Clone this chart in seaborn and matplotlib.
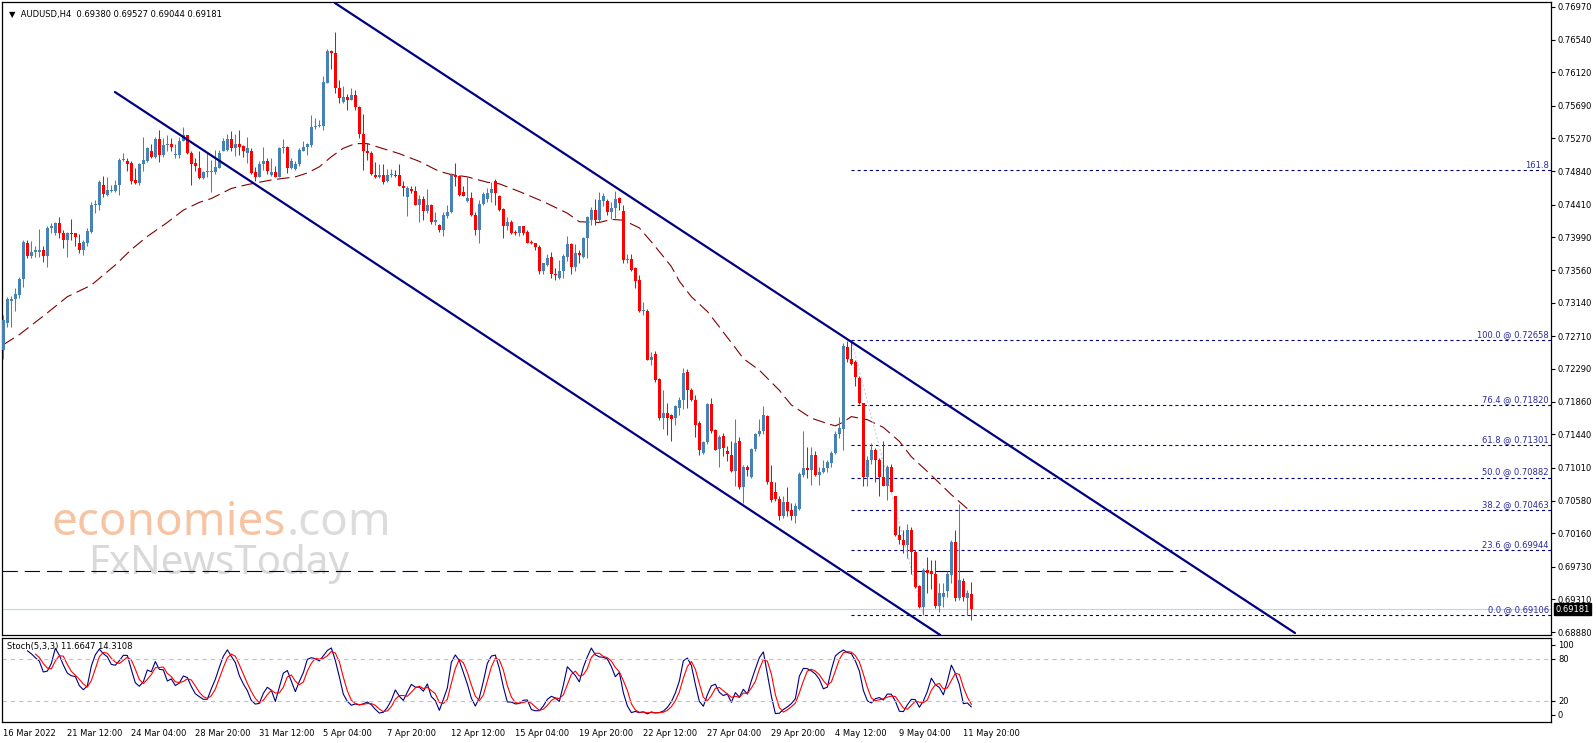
import numpy as np
import pandas as pd
import matplotlib
matplotlib.use("Agg")
import matplotlib.pyplot as plt
import seaborn as sns
from matplotlib.transforms import blended_transform_factory, offset_copy

sns.set_style("white")
plt.rcParams['font.family'] = ['DejaVu Sans']
plt.rcParams['lines.scale_dashes'] = False

# AUDUSD H4 candles, values in pips (price * 10000)
o = [7253, 7288, 7317, 7319, 7324, 7345, 7392, 7375, 7380, 7380, 7383, 7375, 7411, 7404, 7417, 7404,
     7395, 7405, 7404, 7391, 7383, 7392, 7406, 7440, 7441, 7466, 7454, 7459, 7459, 7466, 7499, 7498,
     7495, 7473, 7469, 7494, 7497, 7511, 7503, 7526, 7505, 7518, 7520, 7505, 7505, 7523, 7531, 7508,
     7495, 7489, 7475, 7483, 7483, 7483, 7489, 7511, 7512, 7526, 7514, 7520, 7517, 7508, 7511, 7483,
     7477, 7494, 7498, 7480, 7483, 7477, 7514, 7516, 7488, 7487, 7494, 7511, 7515, 7518, 7541, 7543,
     7543, 7599, 7640, 7637, 7592, 7574, 7580, 7577, 7583, 7567, 7533, 7510, 7508, 7480, 7477, 7480,
     7471, 7479, 7480, 7480, 7465, 7451, 7461, 7459, 7440, 7448, 7433, 7440, 7418, 7415, 7408, 7427,
     7431, 7480, 7478, 7457, 7446, 7450, 7428, 7408, 7442, 7448, 7456, 7472, 7452, 7435, 7413, 7418,
     7406, 7404, 7413, 7406, 7393, 7391, 7386, 7355, 7363, 7373, 7352, 7346, 7355, 7374, 7390, 7360,
     7378, 7373, 7398, 7421, 7434, 7421, 7446, 7446, 7432, 7437, 7450, 7433, 7369, 7371, 7359, 7343,
     7303, 7304, 7240, 7248, 7215, 7165, 7172, 7169, 7165, 7178, 7189, 7225, 7202, 7189, 7159, 7120,
     7134, 7183, 7150, 7125, 7142, 7123, 7117, 7097, 7135, 7076, 7102, 7089, 7125, 7145, 7148, 7168,
     7082, 7070, 7061, 7038, 7057, 7046, 7039, 7047, 7092, 7100, 7098, 7117, 7091, 7095, 7100, 7107,
     7120, 7145, 7151, 7257, 7241, 7237, 7217, 7184, 7089, 7111, 7124, 7111, 7089, 7077, 7102, 7064,
     7014, 7008, 7001, 7021, 6992, 6948, 6921, 6969, 6967, 6964, 6922, 6934, 6941, 6962, 7005, 6932,
     6955, 6932, 6938]
h = [7298, 7322, 7323, 7333, 7348, 7396, 7395, 7394, 7387, 7409, 7387, 7414, 7417, 7419, 7425, 7408,
     7406, 7422, 7405, 7403, 7396, 7411, 7445, 7447, 7473, 7478, 7477, 7467, 7473, 7501, 7508, 7502,
     7497, 7489, 7495, 7529, 7516, 7520, 7529, 7538, 7527, 7531, 7527, 7520, 7529, 7542, 7531, 7510,
     7501, 7510, 7484, 7508, 7499, 7512, 7512, 7527, 7533, 7536, 7533, 7538, 7518, 7528, 7514, 7490,
     7497, 7516, 7501, 7501, 7491, 7516, 7526, 7517, 7502, 7497, 7514, 7523, 7521, 7557, 7553, 7551,
     7607, 7642, 7641, 7664, 7602, 7595, 7584, 7592, 7589, 7569, 7558, 7521, 7510, 7496, 7493, 7493,
     7487, 7487, 7486, 7494, 7471, 7465, 7465, 7465, 7454, 7452, 7461, 7442, 7432, 7416, 7432, 7441,
     7482, 7495, 7480, 7465, 7477, 7457, 7431, 7447, 7457, 7462, 7470, 7474, 7454, 7437, 7425, 7421,
     7408, 7413, 7413, 7408, 7396, 7392, 7389, 7366, 7377, 7380, 7359, 7370, 7377, 7401, 7391, 7390,
     7383, 7399, 7427, 7438, 7449, 7458, 7456, 7449, 7444, 7459, 7451, 7441, 7377, 7377, 7361, 7350,
     7315, 7306, 7250, 7252, 7217, 7202, 7184, 7171, 7182, 7192, 7230, 7228, 7204, 7195, 7161, 7135,
     7184, 7191, 7151, 7143, 7146, 7129, 7135, 7164, 7140, 7104, 7104, 7126, 7146, 7164, 7181, 7169,
     7105, 7083, 7064, 7064, 7076, 7055, 7055, 7096, 7149, 7128, 7128, 7122, 7102, 7111, 7111, 7122,
     7148, 7167, 7262, 7265, 7266, 7240, 7219, 7185, 7116, 7133, 7126, 7113, 7136, 7105, 7106, 7064,
     7026, 7020, 7028, 7024, 6995, 6949, 6971, 6986, 6982, 6981, 6952, 6952, 6967, 7007, 7020, 7054,
     6958, 6943, 6953]
l = [7242, 7283, 7283, 7303, 7320, 7335, 7372, 7372, 7374, 7373, 7367, 7361, 7404, 7402, 7398, 7385,
     7374, 7395, 7387, 7378, 7376, 7387, 7404, 7430, 7434, 7451, 7452, 7458, 7458, 7453, 7497, 7484,
     7468, 7468, 7467, 7484, 7496, 7501, 7502, 7496, 7503, 7511, 7511, 7501, 7501, 7523, 7507, 7467,
     7484, 7474, 7474, 7477, 7457, 7481, 7488, 7510, 7511, 7510, 7504, 7505, 7503, 7495, 7481, 7471,
     7477, 7486, 7481, 7478, 7477, 7477, 7508, 7482, 7487, 7486, 7491, 7510, 7505, 7516, 7539, 7541,
     7538, 7598, 7617, 7586, 7573, 7573, 7563, 7576, 7564, 7527, 7486, 7499, 7480, 7475, 7475, 7468,
     7470, 7477, 7477, 7465, 7452, 7427, 7456, 7440, 7419, 7421, 7430, 7416, 7415, 7406, 7400, 7424,
     7430, 7465, 7452, 7452, 7444, 7427, 7402, 7392, 7441, 7445, 7445, 7441, 7433, 7398, 7408, 7403,
     7402, 7401, 7402, 7391, 7390, 7383, 7352, 7352, 7362, 7346, 7343, 7345, 7346, 7368, 7352, 7355,
     7365, 7372, 7372, 7415, 7415, 7419, 7439, 7428, 7422, 7424, 7434, 7366, 7366, 7355, 7333, 7302,
     7299, 7240, 7234, 7212, 7163, 7151, 7143, 7135, 7156, 7169, 7177, 7178, 7187, 7141, 7117, 7119,
     7132, 7146, 7124, 7102, 7116, 7109, 7096, 7077, 7074, 7055, 7090, 7087, 7122, 7142, 7145, 7080,
     7057, 7058, 7033, 7036, 7038, 7033, 7030, 7046, 7089, 7087, 7079, 7090, 7079, 7094, 7095, 7102,
     7118, 7139, 7124, 7238, 7234, 7206, 7183, 7077, 7077, 7106, 7082, 7064, 7077, 7059, 7069, 7013,
     7002, 6990, 6984, 6964, 6945, 6919, 6911, 6939, 6944, 6920, 6914, 6921, 6934, 6952, 6928, 6930,
     6928, 6911, 6904]
c = [7292, 7319, 7319, 7326, 7345, 7393, 7375, 7380, 7382, 7383, 7375, 7411, 7414, 7417, 7404, 7395,
     7404, 7403, 7399, 7383, 7393, 7407, 7440, 7441, 7470, 7455, 7460, 7460, 7466, 7499, 7500, 7494,
     7472, 7469, 7494, 7499, 7514, 7503, 7526, 7505, 7518, 7520, 7515, 7506, 7524, 7531, 7508, 7494,
     7491, 7475, 7483, 7484, 7484, 7490, 7508, 7524, 7526, 7514, 7520, 7516, 7511, 7514, 7482, 7477,
     7494, 7498, 7484, 7483, 7477, 7514, 7516, 7488, 7498, 7494, 7512, 7516, 7519, 7541, 7543, 7544,
     7600, 7640, 7637, 7592, 7579, 7580, 7577, 7583, 7567, 7533, 7510, 7508, 7481, 7477, 7480, 7470,
     7480, 7480, 7478, 7465, 7462, 7462, 7459, 7440, 7448, 7433, 7440, 7418, 7421, 7408, 7428, 7431,
     7480, 7477, 7454, 7452, 7450, 7428, 7408, 7442, 7455, 7456, 7461, 7456, 7434, 7413, 7418, 7405,
     7404, 7413, 7405, 7392, 7391, 7386, 7355, 7365, 7372, 7352, 7350, 7355, 7375, 7390, 7360, 7378,
     7376, 7398, 7425, 7434, 7421, 7447, 7452, 7432, 7437, 7449, 7443, 7369, 7371, 7357, 7342, 7303,
     7304, 7240, 7244, 7214, 7165, 7172, 7165, 7164, 7181, 7189, 7224, 7201, 7188, 7156, 7124, 7134,
     7183, 7149, 7124, 7141, 7126, 7119, 7097, 7133, 7076, 7102, 7098, 7125, 7145, 7148, 7169, 7082,
     7059, 7060, 7038, 7057, 7045, 7039, 7051, 7093, 7100, 7098, 7117, 7091, 7096, 7100, 7108, 7120,
     7145, 7152, 7258, 7241, 7235, 7218, 7184, 7089, 7111, 7124, 7111, 7089, 7077, 7102, 7070, 7014,
     7008, 7001, 7021, 6992, 6947, 6921, 6969, 6965, 6964, 6922, 6939, 6939, 6964, 7005, 6932, 6956,
     6934, 6939, 6918]

# moving average (dashed), read at some bars
ma_bar = [0, 4, 10, 16, 22, 28, 32, 36, 41, 45, 49, 52, 57, 61, 67, 73, 76, 79, 82, 85, 88, 91, 94,
          99, 104, 109, 112, 116, 121, 124, 129, 135, 141, 144, 149, 152, 155, 159, 162, 165, 167, 169,
          172, 176, 179, 180, 183, 185, 189, 194, 197, 202, 206, 208, 210, 212, 216, 220, 224, 227, 231,
          234, 237, 241]
ma_pips = [7260, 7273, 7297, 7322, 7337, 7363, 7383, 7400, 7418, 7434, 7444, 7449, 7462, 7467, 7473,
           7477, 7482, 7490, 7503, 7514, 7520, 7520, 7515, 7507, 7497, 7484, 7480, 7477, 7470, 7468,
           7458, 7445, 7430, 7419, 7418, 7422, 7421, 7411, 7393, 7374, 7361, 7342, 7322, 7303, 7283,
           7276, 7256, 7242, 7227, 7201, 7182, 7165, 7158, 7155, 7160, 7167, 7163, 7153, 7135, 7115,
           7096, 7081, 7066, 7048]

fib_pct = ["161.8", "100.0", "76.4", "61.8", "50.0", "38.2", "23.6", "0.0"]
fib_price = [0.74853, 0.72658, 0.71820, 0.71301, 0.70882, 0.70463, 0.69944, 0.69106]
fib_start = 212
fib_low_bar = 230

# channel lines (bar, price) and the long dashed level
upper_bar = [82.9, 322.9]
upper_price = [0.77018, 0.68872]
lower_bar = [27.9, 234.2]
lower_price = [0.75867, 0.68846]
level_price = 0.69675
level_end = 295.7

last_price = 0.69181

price_ticks = [0.76970, 0.76540, 0.76120, 0.75690, 0.75270, 0.74840, 0.74410, 0.73990, 0.73560,
               0.73140, 0.72710, 0.72290, 0.71860, 0.71440, 0.71010, 0.70580, 0.70160, 0.69730,
               0.69310, 0.68880]
date_labels = ["16 Mar 2022", "21 Mar 12:00", "24 Mar 04:00", "28 Mar 20:00", "31 Mar 12:00",
               "5 Apr 04:00", "7 Apr 20:00", "12 Apr 12:00", "15 Apr 04:00", "19 Apr 20:00",
               "22 Apr 12:00", "27 Apr 04:00", "29 Apr 20:00", "4 May 12:00", "9 May 04:00",
               "11 May 20:00"]
date_bars = list(range(0, 16 * len(date_labels), 16))

df = pd.DataFrame({"open": o, "high": h, "low": l, "close": c}) / 10000.0
df["bar"] = np.arange(len(df))

# stochastic 5,3,3
hh = df["high"].rolling(5).max()
ll = df["low"].rolling(5).min()
df["k"] = 100 * (df["close"] - ll).rolling(3).sum() / (hh - ll).rolling(3).sum()
df["d"] = df["k"].rolling(3).mean()

W, H = 1596, 743
fig = plt.figure(figsize=(W / 100, H / 100), dpi=100)
ax = fig.add_axes([2 / W, 1 - 635 / H, 1549 / W, 633 / H])
ax2 = fig.add_axes([2 / W, 1 - 722 / H, 1549 / W, 84 / H])

xmin, xmax = -0.33, 386.9
navy = "#000080"
blue = "#4682B4"
red = "#FF0000"

# candles
up = df["close"] >= df["open"]
cols = np.where(up, blue, red)
body_lo = np.minimum(df["open"], df["close"])
body_h = np.maximum((df["close"] - df["open"]).abs(), 0.00013)
ax.vlines(df["bar"], df["low"], df["high"], colors=cols, linewidth=0.75, zorder=3)
ax.bar(df["bar"], body_h, bottom=body_lo, width=0.75, color=cols, linewidth=0, zorder=4)

# moving average
ma = pd.DataFrame({"bar": ma_bar, "ma": np.array(ma_pips) / 10000.0})
sns.lineplot(data=ma, x="bar", y="ma", ax=ax, color="#800000", linewidth=0.8, zorder=2)
ax.lines[-1].set_linestyle((0, (9, 4)))

# channel and levels
ax.plot(upper_bar, upper_price, color=navy, linewidth=1.6, zorder=5)
ax.plot(lower_bar, lower_price, color=navy, linewidth=1.6, zorder=5)
ax.plot([xmin, level_end], [level_price, level_price], color="#000050", linewidth=0.8,
        linestyle=(0, (11, 5)), zorder=2)
ax.axhline(last_price, color="#b0dce4", linewidth=0.8, zorder=1)

trans = blended_transform_factory(ax.transAxes, ax.transData)
for pct, lvl in zip(fib_pct, fib_price):
    ax.plot([fib_start, xmax], [lvl, lvl], color=navy, linewidth=0.8, linestyle=(0, (2.2, 2.2)), zorder=2)
    txt = pct if pct == "161.8" else f"{pct} @ {lvl:.5f}"
    ax.text(0.9985, lvl + 0.00012, txt, transform=trans, ha="right", va="bottom",
            fontsize=6, color="#2a2a9a")
ax.plot([fib_start, fib_low_bar], [fib_price[1], fib_price[-1]], color="#c8c8f0",
        linewidth=0.8, linestyle=(0, (1.5, 1.5)), zorder=2)

# watermark
wm = ax.text(50 / 1549, 1 - 533 / 633, "economies", transform=ax.transAxes, fontsize=33,
             color="#f6c4a2", family="Noto Sans", zorder=0)
fig.canvas.draw()
wm_w = wm.get_window_extent().width
ax.text(50 / 1549, 1 - 533 / 633, ".com", fontsize=33, color="#dcdcdc", family="Noto Sans",
        zorder=0, transform=offset_copy(ax.transAxes, fig=fig, x=wm_w, y=0, units="dots"))
ax.text(86 / 1549, 1 - 572 / 633, "FxNewsToday", transform=ax.transAxes, fontsize=29,
        color="#d9d9d9", family="Noto Sans", zorder=0)

ax.text(7 / 1549, 1 - 12 / 633, "\u25bc  AUDUSD,H4  0.69380 0.69527 0.69044 0.69181",
        transform=ax.transAxes, fontsize=6, va="center", color="black")

ax.set_xlim(xmin, xmax)
ax.set_ylim(0.68846, 0.77031)
ax.yaxis.tick_right()
ax.set_yticks(price_ticks)
ax.set_yticklabels([f"{t:.5f}" for t in price_ticks])
ax.set_xticks([])
ax.tick_params(axis="y", direction="out", length=3, width=0.8, labelsize=6, pad=2, colors="black")
ax.set_xlabel("")
ax.set_ylabel("")

ax.annotate(f"{last_price:.5f}", xy=(1.0, last_price), xycoords=trans, xytext=(3, 0),
            textcoords="offset points", fontsize=6, color="white", va="center", ha="left",
            bbox=dict(boxstyle="square,pad=0.15", facecolor="black", edgecolor="black"), zorder=10)

# stochastic panel
sns.lineplot(data=df, x="bar", y="k", ax=ax2, color=navy, linewidth=0.8)
sns.lineplot(data=df, x="bar", y="d", ax=ax2, color=red, linewidth=0.8)
for lv in (80, 20):
    ax2.axhline(lv, color="#c0c0c0", linewidth=0.8, linestyle=(0, (3, 3)))
ax2.text(5 / 1549, 0.9, "Stoch(5,3,3) 11.6647 14.3108", transform=ax2.transAxes,
         fontsize=6, va="center", color="black")
ax2.set_xlim(xmin, xmax)
ax2.set_ylim(-10, 110)
ax2.yaxis.tick_right()
ax2.set_yticks([100, 80, 20, 0])
ax2.set_xticks(date_bars)
ax2.set_xticklabels(date_labels, ha="left")
ax2.tick_params(axis="both", direction="out", length=3, width=0.8, labelsize=6, pad=2, colors="black")
ax2.set_xlabel("")
ax2.set_ylabel("")

for a in (ax, ax2):
    for s in a.spines.values():
        s.set_color("black")
        s.set_linewidth(0.9)
        s.set_visible(True)

fig.savefig("out.png", dpi=100, facecolor="white")
